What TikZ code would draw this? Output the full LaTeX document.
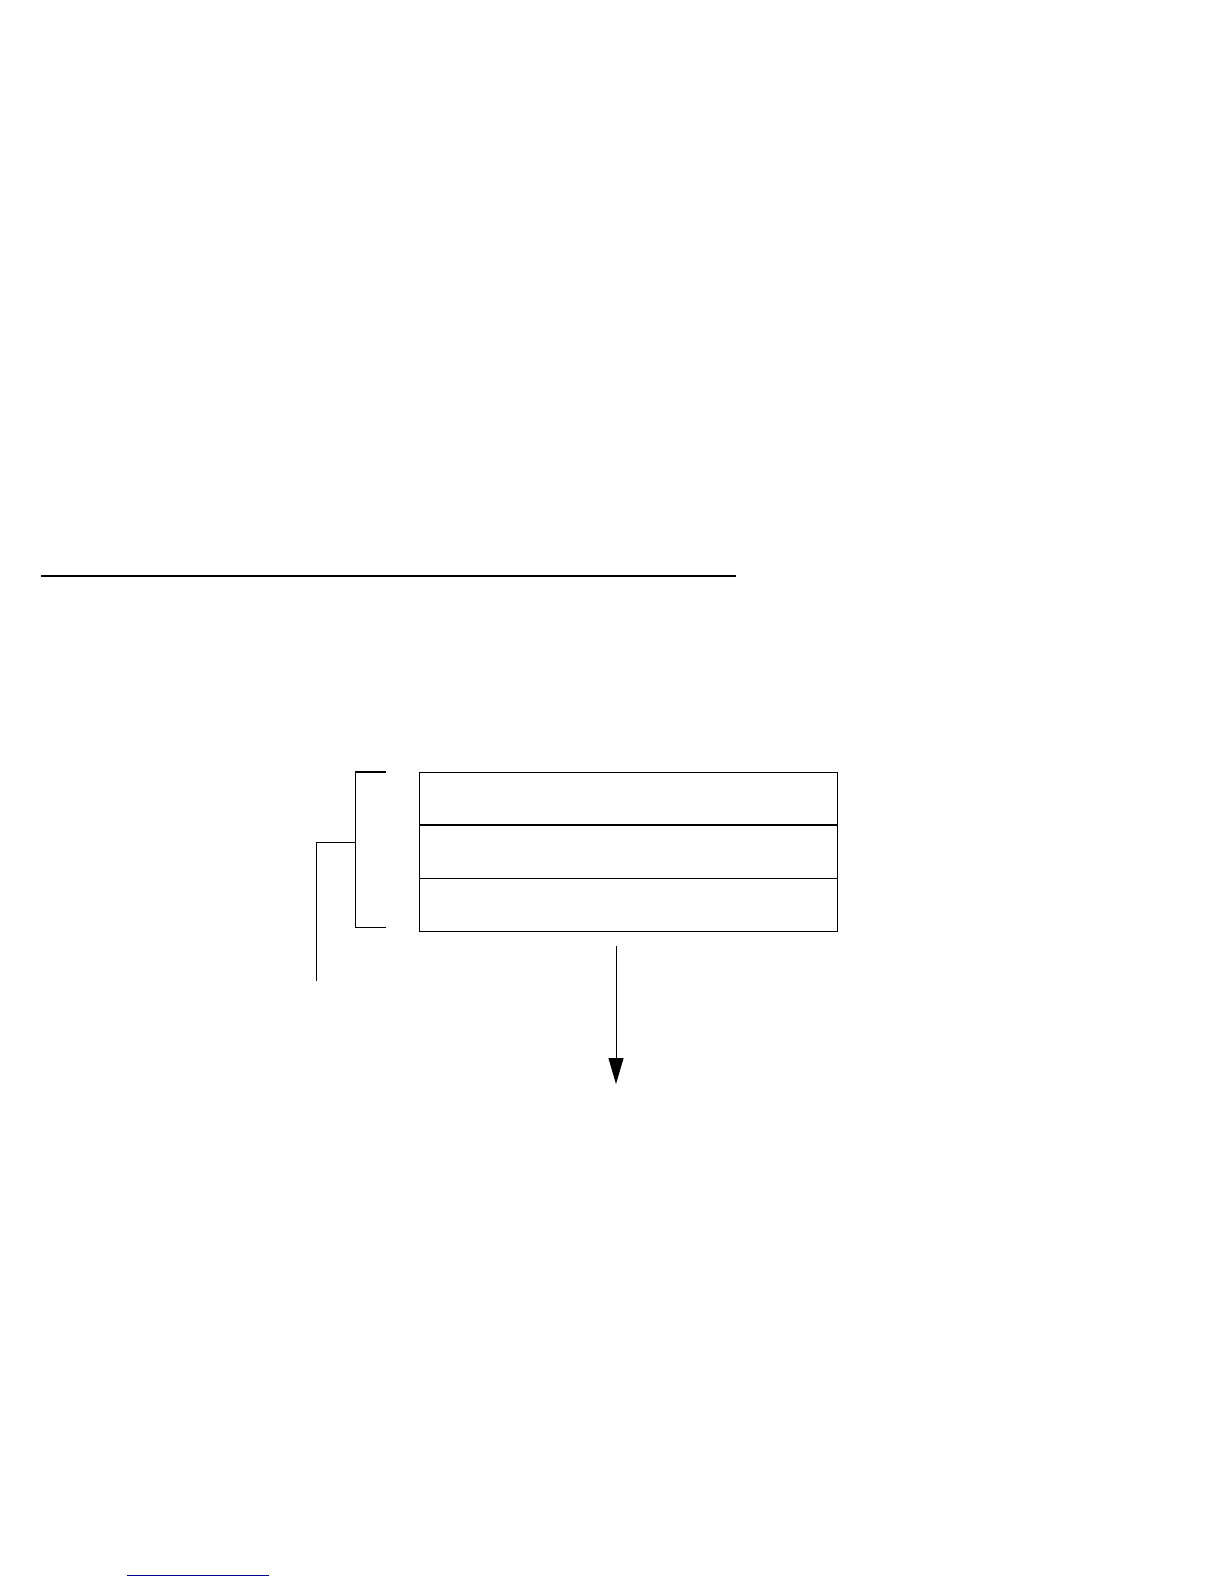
\documentclass[tikz,border=0pt]{standalone}
\usepackage{xcolor}
\usepackage{tikz}
\usetikzlibrary{arrows.meta, positioning}
\definecolor{linkblue}{RGB}{0,0,140}

\begin{document}
\begin{tikzpicture}[
    x=0.5pt, y=-0.5pt,
    row/.style={rectangle, draw=black, line width=0.5pt, minimum width=209pt, minimum height=26.5pt, inner sep=0pt, outer sep=0pt},
    rule/.style={line width=1pt},
    brace/.style={line width=0.5pt},
    arrow/.style={-{Triangle[length=13pt, width=7.5pt]}, line width=0.5pt}
]
\useasboundingbox (0,0) rectangle (1224,1584);

% Separator rule
\coordinate (ruleL) at (41,576);
\coordinate (ruleR) at (736,576);
\draw[rule] (ruleL) -- (ruleR);

% Stacked rows
\node[row, anchor=north west] (row1) at (419,772) {};
\node[row, below=0pt of row1] (row2) {};
\node[row, below=0pt of row2] (row3) {};
\draw[line width=1pt] (row1.south west) -- (row1.south east);

% Bracket
\coordinate (brTop) at (355,772);
\coordinate (brBot) at (355,927);
\coordinate (brMid) at (355,842);
\coordinate (tickTop) at (386,772);
\coordinate (tickBot) at (386,927);
\coordinate (stemTop) at (316,842);
\coordinate (stemEnd) at (316,981);
\draw[brace] (brTop) -- (brBot);
\draw[line width=1pt] (brTop) -- (tickTop);
\draw[brace] (brBot) -- (tickBot);
\draw[brace] (brMid) -- (stemTop) -- (stemEnd);

% Arrow
\coordinate (arrTop) at (616,946);
\coordinate (arrEnd) at (616,1084);
\draw[arrow] (arrTop) -- (arrEnd);

% Link underline
\coordinate (linkL) at (127,1575);
\coordinate (linkR) at (269,1575);
\draw[linkblue, line width=0.5pt] (linkL) -- (linkR);

\end{tikzpicture}
\end{document}
